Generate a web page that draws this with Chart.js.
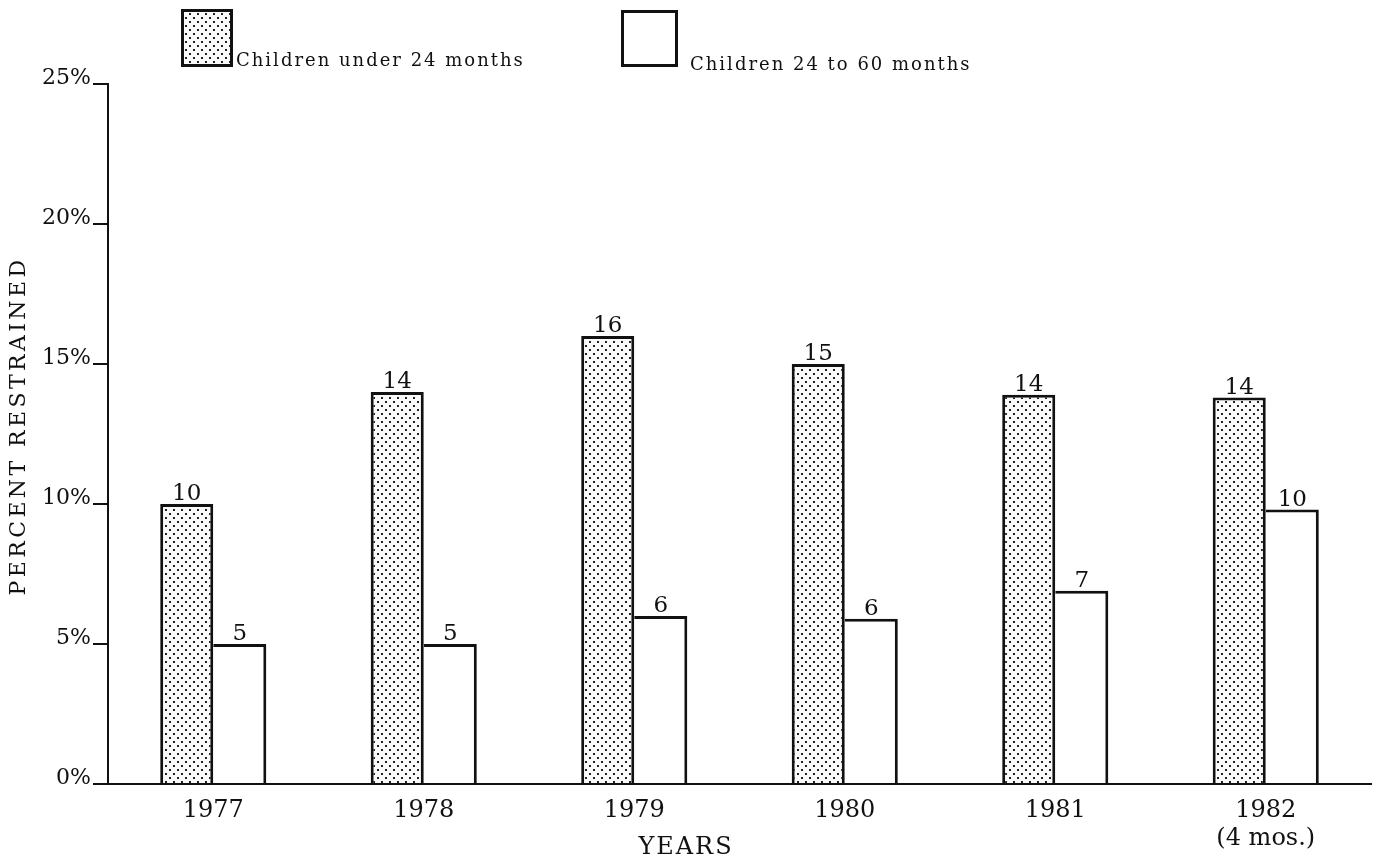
<!DOCTYPE html>
<html><head><meta charset="utf-8">
<script src="https://cdn.jsdelivr.net/npm/chart.js@4.4.0/dist/chart.umd.min.js"></script>
<style>html,body{margin:0;padding:0;background:#fff;}#wrap{width:1380px;height:861px;position:relative}</style>
</head><body><div id="wrap"><canvas id="c" width="1380" height="861"></canvas></div>
<script>
const years = [['1977'], ['1978'], ['1979'], ['1980'], ['1981'], ['1982', '(4 mos.)']];
const under24 = [10, 14, 16, 15, 13.9, 13.8];
const age24to60 = [5, 5, 6, 5.9, 6.9, 9.8];
const under24Labels = ['10', '14', '16', '15', '14', '14'];
const age24to60Labels = ['5', '5', '6', '6', '7', '10'];
const yTicks = [0, 5, 10, 15, 20, 25];
const seriesNames = ['Children under 24 months', 'Children 24 to 60 months'];
const yTitle = 'PERCENT RESTRAINED';
const xTitle = 'YEARS';

const INK = '#111';
const SERIF = '"DejaVu Serif", "Liberation Serif", serif';

function makeDots() {
  const t = document.createElement('canvas');
  t.width = 8; t.height = 8;
  const g = t.getContext('2d');
  g.fillStyle = '#fafafa';
  g.fillRect(0, 0, 8, 8);
  g.fillStyle = '#222';
  g.fillRect(1, 1, 2, 2);
  g.fillRect(5, 5, 2, 2);
  return g.createPattern(t, 'repeat');
}
const ctx0 = document.getElementById('c').getContext('2d');
const dots = makeDots();

const decor = {
  id: 'decor',
  afterDatasetsDraw(chart) {
    const ctx = chart.ctx;
    ctx.save();
    // data labels
    ctx.fillStyle = INK;
    ctx.font = '23px ' + SERIF;
    ctx.textAlign = 'center';
    ctx.textBaseline = 'alphabetic';
    const lbls = [under24Labels, age24to60Labels];
    chart.data.datasets.forEach((ds, di) => {
      const meta = chart.getDatasetMeta(di);
      meta.data.forEach((bar, i) => {
        ctx.fillText(lbls[di][i], bar.x, bar.y - 4);
      });
    });
    // legend
    const boxes = [
      {x: 181, y: 9, w: 52, h: 58, fill: dots, tx: 236, ty: 66},
      {x: 621, y: 10, w: 57, h: 57, fill: '#fff', tx: 690, ty: 70}
    ];
    boxes.forEach((b, i) => {
      ctx.fillStyle = b.fill;
      ctx.fillRect(b.x, b.y, b.w, b.h);
      ctx.strokeStyle = INK;
      ctx.lineWidth = 3;
      ctx.strokeRect(b.x + 1.5, b.y + 1.5, b.w - 3, b.h - 3);
      ctx.fillStyle = INK;
      ctx.font = '18px ' + SERIF;
      ctx.textAlign = 'left';
      ctx.textBaseline = 'alphabetic';
      ctx.letterSpacing = '2px';
      ctx.fillText(seriesNames[i], b.tx, b.ty);
      ctx.letterSpacing = '0px';
    });
    // axis titles
    ctx.fillStyle = INK;
    ctx.textAlign = 'center';
    ctx.textBaseline = 'middle';
    ctx.font = '24px ' + SERIF;
    ctx.letterSpacing = '2px';
    ctx.fillText(xTitle, 686, 848);
    ctx.save();
    ctx.translate(19, 426);
    ctx.rotate(-Math.PI / 2);
    ctx.font = '22px ' + SERIF;
    ctx.letterSpacing = '3.4px';
    ctx.fillText(yTitle, 0, 0);
    ctx.restore();
    ctx.letterSpacing = '0px';
    ctx.restore();
  }
};

new Chart(ctx0, {
  type: 'bar',
  data: {
    labels: years,
    datasets: [
      {label: seriesNames[0], data: under24, backgroundColor: dots, borderColor: INK,
       borderWidth: {top: 3, left: 3, right: 3, bottom: 0}, borderSkipped: false},
      {label: seriesNames[1], data: age24to60, backgroundColor: '#fff', borderColor: INK,
       borderWidth: {top: 3, left: 0, right: 3, bottom: 0}, borderSkipped: false}
    ]
  },
  options: {
    responsive: false,
    devicePixelRatio: 1,
    animation: false,
    layout: {padding: {top: 84, right: 9, left: 0, bottom: 0}},
    datasets: {bar: {categoryPercentage: 0.504, barPercentage: 1.0}},
    plugins: {legend: {display: false}, tooltip: {enabled: false}, title: {display: false}},
    scales: {
      x: {
        grid: {display: false},
        border: {display: true, color: INK, width: 2},
        ticks: {color: INK, font: {family: SERIF, size: 24}, padding: 4, maxRotation: 0, autoSkip: false},
        afterFit(s) { s.height = 77; }
      },
      y: {
        min: 0, max: 25,
        afterBuildTicks(s) { s.ticks = yTicks.map(v => ({value: v})); },
        grid: {display: true, drawOnChartArea: false, drawTicks: true, tickLength: 15, color: INK, lineWidth: 2},
        border: {display: true, color: INK, width: 2},
        ticks: {color: INK, font: {family: SERIF, size: 22}, padding: 2, labelOffset: -6, callback: v => v + '%'},
        afterFit(s) { s.width = 108; }
      }
    }
  },
  plugins: [decor]
});
</script>
</body></html>
